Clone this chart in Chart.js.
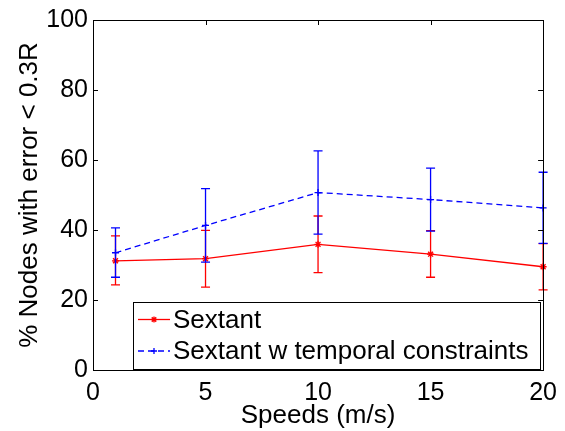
<!DOCTYPE html>
<html>
<head>
<meta charset="utf-8">
<script src="https://cdn.jsdelivr.net/npm/chart.js@4"></script>
<style>
  html, body { margin: 0; padding: 0; background: #fff; }
  #wrap { width: 565px; height: 431px; }
</style>
</head>
<body>
<div id="wrap"><canvas id="chart"></canvas></div>
<script>
const speeds = [1, 5, 10, 15, 20];
const sextant = [31.2, 31.8, 35.9, 33.1, 29.5];
const sextantLow = [24.3, 23.7, 27.8, 26.5, 22.9];
const sextantHigh = [38.3, 39.9, 44.0, 39.8, 36.1];
const temporal = [33.5, 41.3, 50.7, 48.7, 46.3];
const temporalLow = [26.5, 30.8, 38.8, 39.7, 36.2];
const temporalHigh = [40.6, 51.8, 62.6, 57.7, 56.5];
const seriesNames = ['Sextant', 'Sextant w temporal constraints'];

const FONT = '"Liberation Sans", Arial, Helvetica, sans-serif';

const toPoints = (ys) => speeds.map((x, i) => ({ x: x, y: ys[i] }));

// error bars, drawn right after each dataset so layering follows the datasets
const errorBars = {
    id: 'errorBars',
    afterDatasetDraw(chart, args) {
        const ds = chart.data.datasets[args.index];
        if (!ds.errLow) return;
        const ctx = chart.ctx;
        const xs = chart.scales.x, ys = chart.scales.y;
        ctx.save();
        ctx.strokeStyle = ds.borderColor;
        ctx.lineWidth = 1.3;
        ctx.setLineDash([]);
        speeds.forEach((sp, i) => {
            const px = xs.getPixelForValue(sp);
            const lo = ys.getPixelForValue(ds.errLow[i]);
            const hi = ys.getPixelForValue(ds.errHigh[i]);
            ctx.beginPath();
            ctx.moveTo(px, lo); ctx.lineTo(px, hi);
            ctx.moveTo(px - 4.5, lo); ctx.lineTo(px + 4.5, lo);
            ctx.moveTo(px - 4.5, hi); ctx.lineTo(px + 4.5, hi);
            ctx.stroke();
        });
        ctx.restore();
    }
};

// matlab style box with inward ticks, plus the legend box inside the plot
const frame = {
    id: 'frame',
    afterDraw(chart) {
        const ctx = chart.ctx;
        const a = chart.chartArea;
        const xs = chart.scales.x, ys = chart.scales.y;
        ctx.save();
        ctx.strokeStyle = '#000';
        ctx.lineWidth = 1;
        ctx.setLineDash([]);
        ctx.strokeRect(Math.round(a.left) + 0.5, Math.round(a.top) + 0.5,
            Math.round(a.right - a.left), Math.round(a.bottom - a.top));
        const tl = 5;
        ctx.beginPath();
        xs.ticks.forEach(t => {
            const px = Math.round(xs.getPixelForValue(t.value)) + 0.5;
            ctx.moveTo(px, a.bottom); ctx.lineTo(px, a.bottom - tl);
            ctx.moveTo(px, a.top); ctx.lineTo(px, a.top + tl);
        });
        ys.ticks.forEach(t => {
            const py = Math.round(ys.getPixelForValue(t.value)) + 0.5;
            ctx.moveTo(a.left, py); ctx.lineTo(a.left + tl, py);
            ctx.moveTo(a.right, py); ctx.lineTo(a.right - tl, py);
        });
        ctx.stroke();

        // legend
        const bx = a.left + 40, by = a.top + 282, bw = 407, bh = 67;
        ctx.fillStyle = '#fff';
        ctx.fillRect(bx, by, bw, bh);
        ctx.strokeRect(Math.round(bx) + 0.5, Math.round(by) + 0.5, bw, bh);
        ctx.font = '26px ' + FONT;
        ctx.textBaseline = 'middle';
        ctx.textAlign = 'left';
        chart.data.datasets.forEach((ds, i) => {
            const cy = by + 17.5 + i * 31.5;
            const x0 = bx + 5, x1 = bx + 37;
            ctx.strokeStyle = ds.borderColor;
            ctx.lineWidth = 1.3;
            ctx.setLineDash(ds.borderDash || []);
            ctx.beginPath();
            ctx.moveTo(x0, cy); ctx.lineTo(x1, cy);
            ctx.stroke();
            ctx.setLineDash([]);
            const mx = (x0 + x1) / 2;
            ctx.beginPath();
            ctx.moveTo(mx - 3, cy); ctx.lineTo(mx + 3, cy);
            ctx.moveTo(mx, cy - 3); ctx.lineTo(mx, cy + 3);
            if (ds.pointStyle === 'star') {
                ctx.moveTo(mx - 2.2, cy - 2.2); ctx.lineTo(mx + 2.2, cy + 2.2);
                ctx.moveTo(mx - 2.2, cy + 2.2); ctx.lineTo(mx + 2.2, cy - 2.2);
            }
            ctx.stroke();
            ctx.fillStyle = '#000';
            ctx.fillText(ds.label, x1 + 3, cy + 1);
        });
        ctx.restore();
    }
};

new Chart(document.getElementById('chart'), {
    type: 'line',
    data: {
        datasets: [
            {
                label: seriesNames[0],
                data: toPoints(sextant),
                errLow: sextantLow,
                errHigh: sextantHigh,
                borderColor: '#ff0000',
                backgroundColor: '#ff0000',
                borderWidth: 1.3,
                pointStyle: 'star',
                pointRadius: 3.5,
                pointBorderWidth: 1.3,
                clip: false,
                order: 2
            },
            {
                label: seriesNames[1],
                data: toPoints(temporal),
                errLow: temporalLow,
                errHigh: temporalHigh,
                borderColor: '#0000ff',
                backgroundColor: '#0000ff',
                borderWidth: 1.3,
                borderDash: [6, 4],
                pointStyle: 'cross',
                pointRadius: 3.5,
                pointBorderWidth: 1.3,
                clip: false,
                order: 1
            }
        ]
    },
    options: {
        responsive: true,
        maintainAspectRatio: false,
        animation: false,
        layout: { padding: { top: 17, right: 19, left: 0, bottom: 0 } },
        plugins: { legend: { display: false }, tooltip: { enabled: false } },
        scales: {
            x: {
                type: 'linear',
                min: 0,
                max: 20,
                grid: { display: false, drawTicks: false, tickLength: 0 },
                border: { display: false },
                ticks: { stepSize: 5, padding: 8, color: '#000', font: { family: FONT, size: 25 } },
                title: {
                    display: true,
                    text: 'Speeds (m/s)',
                    color: '#000',
                    font: { family: FONT, size: 26, lineHeight: 1 },
                    padding: { top: 0, bottom: 2 }
                },
                afterFit(scale) { scale.height = 61; }
            },
            y: {
                min: 0,
                max: 100,
                grid: { display: false, drawTicks: false, tickLength: 0 },
                border: { display: false },
                ticks: { stepSize: 20, padding: 5, color: '#000', font: { family: FONT, size: 25 } },
                title: {
                    display: true,
                    text: '% Nodes with error < 0.3R',
                    color: '#000',
                    font: { family: FONT, size: 26 },
                    padding: { top: 14, bottom: 0 }
                },
                afterFit(scale) { scale.width = 93; }
            }
        }
    },
    plugins: [errorBars, frame]
});
</script>
</body>
</html>
